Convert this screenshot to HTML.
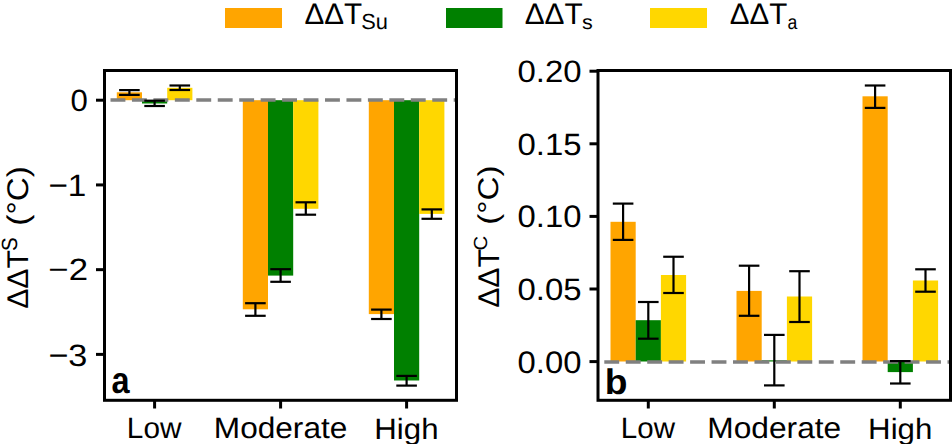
<!DOCTYPE html>
<html><head><meta charset="utf-8"><title>Bar charts</title>
<style>
html,body{margin:0;padding:0;background:#fff;}
body{width:952px;height:444px;overflow:hidden;}
svg{display:block;font-family:"Liberation Sans", sans-serif;text-rendering:geometricPrecision;}
</style></head><body>
<svg width="952" height="444" viewBox="0 0 952 444">
<rect width="952" height="444" fill="#fff"/>
<rect x="225.00" y="8.00" width="57.00" height="20.00" fill="#ffa500"/>
<rect x="446.00" y="8.00" width="56.50" height="20.00" fill="#008000"/>
<rect x="650.00" y="8.00" width="57.00" height="20.00" fill="#ffd700"/>
<g transform="translate(304.41,23.80)"><text x="0" y="0" font-size="29.68" textLength="57.79" lengthAdjust="spacingAndGlyphs">ΔΔT</text></g>
<g transform="translate(361.30,28.64)"><text x="0" y="0" font-size="21.72" textLength="26.67" lengthAdjust="spacingAndGlyphs">Su</text></g>
<g transform="translate(524.67,23.80)"><text x="0" y="0" font-size="29.68" textLength="58.06" lengthAdjust="spacingAndGlyphs">ΔΔT</text></g>
<g transform="translate(581.89,28.67)"><text x="0" y="0" font-size="20.07" textLength="10.76" lengthAdjust="spacingAndGlyphs">s</text></g>
<g transform="translate(729.67,23.80)"><text x="0" y="0" font-size="29.68" textLength="57.53" lengthAdjust="spacingAndGlyphs">ΔΔT</text></g>
<g transform="translate(787.44,28.96)"><text x="0" y="0" font-size="20.20" textLength="9.79" lengthAdjust="spacingAndGlyphs">a</text></g>
<rect x="116.80" y="92.30" width="25.20" height="7.90" fill="#ffa500"/>
<rect x="142.00" y="100.20" width="25.20" height="3.30" fill="#008000"/>
<rect x="167.20" y="87.80" width="25.20" height="12.40" fill="#ffd700"/>
<rect x="242.80" y="100.20" width="25.20" height="209.10" fill="#ffa500"/>
<rect x="268.00" y="100.20" width="25.20" height="175.40" fill="#008000"/>
<rect x="293.20" y="100.20" width="25.20" height="108.60" fill="#ffd700"/>
<rect x="368.80" y="100.20" width="25.20" height="213.90" fill="#ffa500"/>
<rect x="394.00" y="100.20" width="25.20" height="280.30" fill="#008000"/>
<rect x="419.20" y="100.20" width="25.20" height="113.70" fill="#ffd700"/>
<line x1="110.50" y1="100.00" x2="456.50" y2="100.00" stroke="#808080" stroke-width="3.4" stroke-dasharray="14.9 6.55"/>
<line x1="129.40" y1="90.10" x2="129.40" y2="94.90" stroke="#000" stroke-width="2.2" /><line x1="119.10" y1="90.10" x2="139.70" y2="90.10" stroke="#000" stroke-width="2.2" /><line x1="119.10" y1="94.90" x2="139.70" y2="94.90" stroke="#000" stroke-width="2.2" />
<line x1="154.60" y1="100.70" x2="154.60" y2="106.00" stroke="#000" stroke-width="2.2" /><line x1="144.30" y1="100.70" x2="164.90" y2="100.70" stroke="#000" stroke-width="2.2" /><line x1="144.30" y1="106.00" x2="164.90" y2="106.00" stroke="#000" stroke-width="2.2" />
<line x1="179.80" y1="85.50" x2="179.80" y2="90.00" stroke="#000" stroke-width="2.2" /><line x1="169.50" y1="85.50" x2="190.10" y2="85.50" stroke="#000" stroke-width="2.2" /><line x1="169.50" y1="90.00" x2="190.10" y2="90.00" stroke="#000" stroke-width="2.2" />
<line x1="255.40" y1="303.20" x2="255.40" y2="315.80" stroke="#000" stroke-width="2.2" /><line x1="245.10" y1="303.20" x2="265.70" y2="303.20" stroke="#000" stroke-width="2.2" /><line x1="245.10" y1="315.80" x2="265.70" y2="315.80" stroke="#000" stroke-width="2.2" />
<line x1="280.60" y1="269.20" x2="280.60" y2="281.80" stroke="#000" stroke-width="2.2" /><line x1="270.30" y1="269.20" x2="290.90" y2="269.20" stroke="#000" stroke-width="2.2" /><line x1="270.30" y1="281.80" x2="290.90" y2="281.80" stroke="#000" stroke-width="2.2" />
<line x1="305.80" y1="202.30" x2="305.80" y2="214.70" stroke="#000" stroke-width="2.2" /><line x1="295.50" y1="202.30" x2="316.10" y2="202.30" stroke="#000" stroke-width="2.2" /><line x1="295.50" y1="214.70" x2="316.10" y2="214.70" stroke="#000" stroke-width="2.2" />
<line x1="381.40" y1="309.60" x2="381.40" y2="319.00" stroke="#000" stroke-width="2.2" /><line x1="371.10" y1="309.60" x2="391.70" y2="309.60" stroke="#000" stroke-width="2.2" /><line x1="371.10" y1="319.00" x2="391.70" y2="319.00" stroke="#000" stroke-width="2.2" />
<line x1="406.60" y1="375.90" x2="406.60" y2="385.60" stroke="#000" stroke-width="2.2" /><line x1="396.30" y1="375.90" x2="416.90" y2="375.90" stroke="#000" stroke-width="2.2" /><line x1="396.30" y1="385.60" x2="416.90" y2="385.60" stroke="#000" stroke-width="2.2" />
<line x1="431.80" y1="209.40" x2="431.80" y2="218.80" stroke="#000" stroke-width="2.2" /><line x1="421.50" y1="209.40" x2="442.10" y2="209.40" stroke="#000" stroke-width="2.2" /><line x1="421.50" y1="218.80" x2="442.10" y2="218.80" stroke="#000" stroke-width="2.2" />
<rect x="104.5" y="70.5" width="352" height="329.8" fill="none" stroke="#000" stroke-width="3"/>
<line x1="96.00" y1="100.20" x2="104.50" y2="100.20" stroke="#000" stroke-width="3" />
<line x1="96.00" y1="184.93" x2="104.50" y2="184.93" stroke="#000" stroke-width="3" />
<line x1="96.00" y1="269.66" x2="104.50" y2="269.66" stroke="#000" stroke-width="3" />
<line x1="96.00" y1="354.39" x2="104.50" y2="354.39" stroke="#000" stroke-width="3" />
<g transform="translate(70.42,111.11)"><text x="0" y="0" font-size="30.67" textLength="17.29" lengthAdjust="spacingAndGlyphs">0</text></g>
<g transform="translate(48.41,196.00)"><text x="0" y="0" font-size="31.03" textLength="38.01" lengthAdjust="spacingAndGlyphs">−1</text></g>
<g transform="translate(48.36,280.00)"><text x="0" y="0" font-size="30.78" textLength="39.68" lengthAdjust="spacingAndGlyphs">−2</text></g>
<g transform="translate(48.38,365.55)"><text x="0" y="0" font-size="30.94" textLength="39.04" lengthAdjust="spacingAndGlyphs">−3</text></g>
<line x1="154.60" y1="400.30" x2="154.60" y2="408.50" stroke="#000" stroke-width="3" />
<line x1="280.60" y1="400.30" x2="280.60" y2="408.50" stroke="#000" stroke-width="3" />
<line x1="406.60" y1="400.30" x2="406.60" y2="408.50" stroke="#000" stroke-width="3" />
<g transform="translate(126.87,437.57)"><text x="0" y="0" font-size="29.36" textLength="54.57" lengthAdjust="spacingAndGlyphs">Low</text></g>
<g transform="translate(213.80,438.15)"><text x="0" y="0" font-size="29.58" textLength="133.55" lengthAdjust="spacingAndGlyphs">Moderate</text></g>
<g transform="translate(374.31,438.75)"><text x="0" y="0" font-size="29.40" textLength="64.18" lengthAdjust="spacingAndGlyphs">High</text></g>
<g transform="translate(111.47,393.37)"><text x="0" y="0" font-size="37.09" font-weight="bold" textLength="18.07" lengthAdjust="spacingAndGlyphs">a</text></g>
<g transform="translate(27.62,308.82) rotate(-90)"><text x="0" y="0" font-size="29.94" textLength="58.68" lengthAdjust="spacingAndGlyphs">ΔΔT</text></g>
<g transform="translate(16.99,250.95) rotate(-90)"><text x="0" y="0" font-size="21.94" textLength="13.72" lengthAdjust="spacingAndGlyphs">S</text></g>
<g transform="translate(27.51,225.70) rotate(-90)"><text x="0" y="0" font-size="29.87" textLength="59.52" lengthAdjust="spacingAndGlyphs">(°C)</text></g>
<rect x="610.50" y="221.80" width="25.20" height="139.70" fill="#ffa500"/>
<rect x="635.70" y="320.20" width="25.20" height="41.30" fill="#008000"/>
<rect x="660.90" y="275.00" width="25.20" height="86.50" fill="#ffd700"/>
<rect x="736.50" y="290.90" width="25.20" height="70.60" fill="#ffa500"/>
<rect x="761.70" y="360.30" width="25.20" height="1.20" fill="#008000"/>
<rect x="786.90" y="296.50" width="25.20" height="65.00" fill="#ffd700"/>
<rect x="862.50" y="96.30" width="25.20" height="265.20" fill="#ffa500"/>
<rect x="887.70" y="361.50" width="25.20" height="10.60" fill="#008000"/>
<rect x="912.90" y="280.50" width="25.20" height="81.00" fill="#ffd700"/>
<line x1="604.30" y1="362.00" x2="950.50" y2="362.00" stroke="#808080" stroke-width="3.4" stroke-dasharray="14.9 6.55"/>
<line x1="623.10" y1="203.60" x2="623.10" y2="239.90" stroke="#000" stroke-width="2.2" /><line x1="612.80" y1="203.60" x2="633.40" y2="203.60" stroke="#000" stroke-width="2.2" /><line x1="612.80" y1="239.90" x2="633.40" y2="239.90" stroke="#000" stroke-width="2.2" />
<line x1="648.30" y1="302.00" x2="648.30" y2="338.70" stroke="#000" stroke-width="2.2" /><line x1="638.00" y1="302.00" x2="658.60" y2="302.00" stroke="#000" stroke-width="2.2" /><line x1="638.00" y1="338.70" x2="658.60" y2="338.70" stroke="#000" stroke-width="2.2" />
<line x1="673.50" y1="256.75" x2="673.50" y2="293.00" stroke="#000" stroke-width="2.2" /><line x1="663.20" y1="256.75" x2="683.80" y2="256.75" stroke="#000" stroke-width="2.2" /><line x1="663.20" y1="293.00" x2="683.80" y2="293.00" stroke="#000" stroke-width="2.2" />
<line x1="749.10" y1="265.70" x2="749.10" y2="315.80" stroke="#000" stroke-width="2.2" /><line x1="738.80" y1="265.70" x2="759.40" y2="265.70" stroke="#000" stroke-width="2.2" /><line x1="738.80" y1="315.80" x2="759.40" y2="315.80" stroke="#000" stroke-width="2.2" />
<line x1="774.30" y1="334.90" x2="774.30" y2="385.40" stroke="#000" stroke-width="2.2" /><line x1="764.00" y1="334.90" x2="784.60" y2="334.90" stroke="#000" stroke-width="2.2" /><line x1="764.00" y1="385.40" x2="784.60" y2="385.40" stroke="#000" stroke-width="2.2" />
<line x1="799.50" y1="271.20" x2="799.50" y2="322.00" stroke="#000" stroke-width="2.2" /><line x1="789.20" y1="271.20" x2="809.80" y2="271.20" stroke="#000" stroke-width="2.2" /><line x1="789.20" y1="322.00" x2="809.80" y2="322.00" stroke="#000" stroke-width="2.2" />
<line x1="875.10" y1="85.50" x2="875.10" y2="107.90" stroke="#000" stroke-width="2.2" /><line x1="864.80" y1="85.50" x2="885.40" y2="85.50" stroke="#000" stroke-width="2.2" /><line x1="864.80" y1="107.90" x2="885.40" y2="107.90" stroke="#000" stroke-width="2.2" />
<line x1="900.30" y1="361.10" x2="900.30" y2="383.50" stroke="#000" stroke-width="2.2" /><line x1="890.00" y1="361.10" x2="910.60" y2="361.10" stroke="#000" stroke-width="2.2" /><line x1="890.00" y1="383.50" x2="910.60" y2="383.50" stroke="#000" stroke-width="2.2" />
<line x1="925.50" y1="269.30" x2="925.50" y2="291.70" stroke="#000" stroke-width="2.2" /><line x1="915.20" y1="269.30" x2="935.80" y2="269.30" stroke="#000" stroke-width="2.2" /><line x1="915.20" y1="291.70" x2="935.80" y2="291.70" stroke="#000" stroke-width="2.2" />
<rect x="598" y="70.5" width="352.5" height="329.8" fill="none" stroke="#000" stroke-width="3"/>
<line x1="589.50" y1="361.60" x2="598.00" y2="361.60" stroke="#000" stroke-width="3" />
<line x1="589.50" y1="289.00" x2="598.00" y2="289.00" stroke="#000" stroke-width="3" />
<line x1="589.50" y1="216.40" x2="598.00" y2="216.40" stroke="#000" stroke-width="3" />
<line x1="589.50" y1="143.80" x2="598.00" y2="143.80" stroke="#000" stroke-width="3" />
<line x1="589.50" y1="71.20" x2="598.00" y2="71.20" stroke="#000" stroke-width="3" />
<g transform="translate(517.56,373.07)"><text x="0" y="0" font-size="31.08" textLength="63.85" lengthAdjust="spacingAndGlyphs">0.00</text></g>
<g transform="translate(517.56,300.35)"><text x="0" y="0" font-size="30.89" textLength="64.00" lengthAdjust="spacingAndGlyphs">0.05</text></g>
<g transform="translate(517.56,227.27)"><text x="0" y="0" font-size="31.08" textLength="63.85" lengthAdjust="spacingAndGlyphs">0.10</text></g>
<g transform="translate(517.56,154.75)"><text x="0" y="0" font-size="30.77" textLength="64.03" lengthAdjust="spacingAndGlyphs">0.15</text></g>
<g transform="translate(517.56,82.21)"><text x="0" y="0" font-size="30.96" textLength="64.05" lengthAdjust="spacingAndGlyphs">0.20</text></g>
<line x1="648.30" y1="400.30" x2="648.30" y2="408.50" stroke="#000" stroke-width="3" />
<line x1="774.30" y1="400.30" x2="774.30" y2="408.50" stroke="#000" stroke-width="3" />
<line x1="900.30" y1="400.30" x2="900.30" y2="408.50" stroke="#000" stroke-width="3" />
<g transform="translate(620.87,437.56)"><text x="0" y="0" font-size="29.34" textLength="54.12" lengthAdjust="spacingAndGlyphs">Low</text></g>
<g transform="translate(707.31,438.15)"><text x="0" y="0" font-size="29.57" textLength="133.93" lengthAdjust="spacingAndGlyphs">Moderate</text></g>
<g transform="translate(868.08,438.75)"><text x="0" y="0" font-size="29.40" textLength="64.22" lengthAdjust="spacingAndGlyphs">High</text></g>
<g transform="translate(604.76,393.75)"><text x="0" y="0" font-size="35.56" font-weight="bold" textLength="22.73" lengthAdjust="spacingAndGlyphs">b</text></g>
<g transform="translate(498.82,307.82) rotate(-90)"><text x="0" y="0" font-size="29.94" textLength="58.68" lengthAdjust="spacingAndGlyphs">ΔΔT</text></g>
<g transform="translate(486.92,250.38) rotate(-90)"><text x="0" y="0" font-size="18.92" textLength="14.65" lengthAdjust="spacingAndGlyphs">C</text></g>
<g transform="translate(498.38,224.85) rotate(-90)"><text x="0" y="0" font-size="28.57" textLength="59.41" lengthAdjust="spacingAndGlyphs">(°C)</text></g>
</svg>
</body></html>
